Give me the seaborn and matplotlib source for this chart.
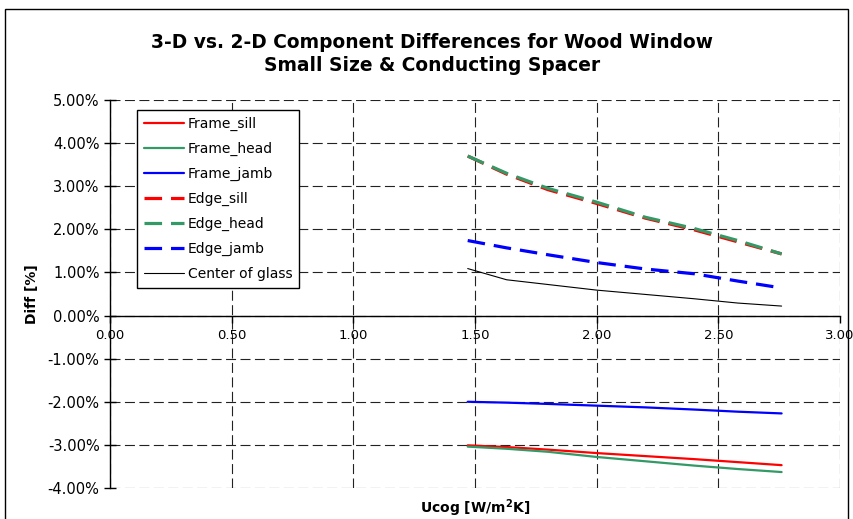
import matplotlib
matplotlib.use("Agg")
import matplotlib.pyplot as plt
import seaborn as sns
import pandas as pd
from matplotlib.patches import Rectangle
from matplotlib.ticker import FuncFormatter

# ---- data ----
ucog = [1.47, 1.63, 1.80, 2.00, 2.20, 2.40, 2.58, 2.76]
frame_sill = [-3.01, -3.05, -3.11, -3.19, -3.26, -3.33, -3.40, -3.47]
frame_head = [-3.04, -3.09, -3.16, -3.28, -3.38, -3.48, -3.56, -3.63]
frame_jamb = [-2.00, -2.02, -2.05, -2.09, -2.13, -2.18, -2.23, -2.27]
edge_sill = [3.70, 3.28, 2.92, 2.60, 2.26, 1.99, 1.71, 1.43]
edge_head = [3.70, 3.30, 2.95, 2.63, 2.28, 2.02, 1.74, 1.43]
edge_jamb = [1.74, 1.57, 1.41, 1.23, 1.08, 0.97, 0.80, 0.64]
center_glass = [1.09, 0.83, 0.72, 0.59, 0.49, 0.39, 0.29, 0.22]

series = ["Frame_sill", "Frame_head", "Frame_jamb", "Edge_sill", "Edge_head", "Edge_jamb", "Center of glass"]
values = [frame_sill, frame_head, frame_jamb, edge_sill, edge_head, edge_jamb, center_glass]

xticks = [0.0, 0.5, 1.0, 1.5, 2.0, 2.5, 3.0]
yticks = [-4, -3, -2, -1, 0, 1, 2, 3, 4, 5]

styles = {
    "Frame_sill": dict(color="#FF0000", ls="-", lw=1.6),
    "Frame_head": dict(color="#339966", ls="-", lw=1.6),
    "Frame_jamb": dict(color="#0000FF", ls="-", lw=1.6),
    "Edge_sill": dict(color="#FF0000", ls=(0, (5.5, 2.8)), lw=2.3),
    "Edge_head": dict(color="#339966", ls=(0, (5.5, 2.8)), lw=2.3),
    "Edge_jamb": dict(color="#0000FF", ls=(0, (5.5, 2.8)), lw=2.3),
    "Center of glass": dict(color="#000000", ls="-", lw=0.8),
}

sns.set_theme(style="white")
plt.rcParams["font.family"] = ["DejaVu Sans"]

fig = plt.figure(figsize=(8.54, 5.19), dpi=100)
ax = fig.add_axes([110 / 854, 1 - 488 / 519, 730 / 854, 388 / 519])

for name, vals in zip(series, values):
    st = styles[name]
    sns.lineplot(x=ucog, y=vals, ax=ax, color=st["color"], linestyle=st["ls"],
                 linewidth=st["lw"], label=name, estimator=None, sort=False)

ax.set_xlim(0, 3.0)
ax.set_ylim(-4, 5)
ax.set_xticks(xticks)
ax.set_yticks(yticks)
ax.xaxis.set_major_formatter(FuncFormatter(lambda v, p: f"{v:.2f}"))
ax.yaxis.set_major_formatter(FuncFormatter(lambda v, p: f"{v:.2f}%"))

ax.grid(True, color="#222222", linestyle=(0, (9, 4)), linewidth=0.8)
ax.set_axisbelow(True)

for s in ["top", "right"]:
    ax.spines[s].set_visible(False)
ax.spines["bottom"].set_position(("data", 0))
ax.spines["bottom"].set_color("black")
ax.spines["bottom"].set_linewidth(1.0)
ax.spines["left"].set_color("black")
ax.spines["left"].set_linewidth(1.0)
ax.tick_params(axis="x", direction="out", length=5, width=1, color="black",
               labelsize=9.5, pad=5, bottom=True)
ax.tick_params(axis="y", direction="inout", length=9, width=1, color="black",
               labelsize=10.5, pad=3, left=True)
for lab in ax.get_xticklabels() + ax.get_yticklabels():
    lab.set_color("black")

ax.set_xlabel("Ucog [W/m$^\\mathbf{2}$K]", fontsize=10, fontweight="bold",
              color="black", va="baseline")
ax.set_ylabel("Diff [%]", fontsize=10, fontweight="bold", color="black", va="center")
ax.xaxis.set_label_coords(0.5, (488 - 513) / 388)
ax.yaxis.set_label_coords(-0.107, 0.5)

leg = ax.legend(loc="upper left", bbox_to_anchor=(0.037, 0.974), fontsize=10,
                frameon=True, fancybox=False, edgecolor="black", framealpha=1,
                handlelength=2.85, handletextpad=0.3, labelspacing=0.78,
                borderpad=0.5, borderaxespad=0)
leg.get_frame().set_linewidth(1.0)
for t in leg.get_texts():
    t.set_color("black")

fig.text(0.506, 1 - 47.7 / 519, "3-D vs. 2-D Component Differences for Wood Window",
         ha="center", va="baseline", fontsize=13.4, fontweight="bold", color="black")
fig.text(0.506, 1 - 71 / 519, "Small Size & Conducting Spacer",
         ha="center", va="baseline", fontsize=13.4, fontweight="bold", color="black")

fig.patches.append(Rectangle((5 / 854, -0.02), 843 / 854, 1 - 9 / 519 + 0.02,
                             transform=fig.transFigure, fill=False,
                             edgecolor="black", linewidth=1.0))

fig.savefig("out.png", dpi=100)
